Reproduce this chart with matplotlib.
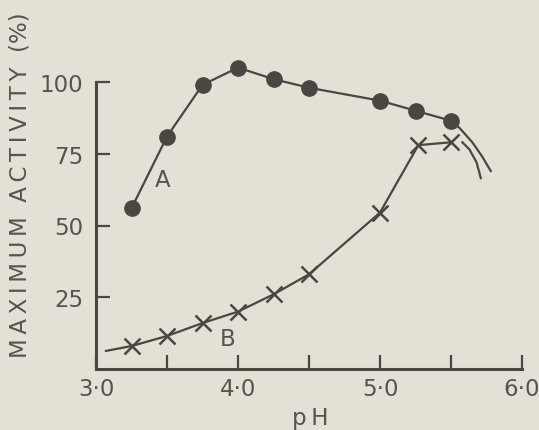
import matplotlib
matplotlib.use("Agg")
import matplotlib.pyplot as plt

# Curve A (filled circles)
ph_a = [3.25, 3.5, 3.75, 4.0, 4.25, 4.5, 5.0, 5.25, 5.5]
act_a = [56, 81, 99, 105, 101, 98, 93.5, 90, 86.5]
# Curve A tail beyond last point
ph_a_tail = [5.5, 5.56, 5.65, 5.72, 5.78]
act_a_tail = [86.5, 84, 79, 74, 69]

# Curve B (crosses)
ph_b = [3.25, 3.5, 3.75, 4.0, 4.25, 4.5, 5.0, 5.27, 5.5]
act_b = [8, 11.5, 16, 20, 26, 33, 54.5, 78, 79]
# Curve B line start and tail
ph_b_start = [3.07, 3.25]
act_b_start = [6.3, 8]
ph_b_tail = [5.58, 5.63, 5.68, 5.71]
act_b_tail = [79, 76.5, 72, 66.5]

xticks = [3.0, 3.5, 4.0, 4.5, 5.0, 5.5, 6.0]
xticklabels = ["3·0", "", "4·0", "", "5·0", "", "6·0"]
yticks = [25, 50, 75, 100]
yticklabels = ["25", "50", "75", "100"]

bg = "#e3e1d6"
ink = "#4a4642"
txt = "#57534e"

plt.rcParams['font.family'] = ['DejaVu Sans']

fig = plt.figure(figsize=(5.39, 4.31), dpi=100, facecolor=bg)
ax = fig.add_axes([96/539, 1-370/431, (522-96)/539, (370-83)/431])
ax.set_facecolor(bg)
ax.set_xlim(3.0, 6.0)
ax.set_ylim(0, 100)

for s in ["top", "right"]:
    ax.spines[s].set_visible(False)
for s in ["left", "bottom"]:
    ax.spines[s].set_color(ink)
    ax.spines[s].set_linewidth(2.2)
ax.spines["left"].set_bounds(0, 100)

ax.set_xticks(xticks)
ax.set_xticklabels(xticklabels)
ax.set_yticks(yticks)
ax.set_yticklabels(yticklabels)
ax.tick_params(axis="both", direction="in", length=10, width=1.6, color=ink,
               labelcolor=txt, labelsize=16.5)
ax.tick_params(axis="x", pad=6)
ax.tick_params(axis="y", pad=9)

lw = 1.6
ax.plot(ph_a, act_a, color=ink, lw=lw, marker="o", ms=11, mfc=ink, mec=ink,
        clip_on=False, zorder=3)
ax.plot(ph_a_tail, act_a_tail, color=ink, lw=lw, clip_on=False)
ax.plot(ph_b, act_b, color=ink, lw=lw, marker="x", ms=11, mew=1.8,
        clip_on=False, zorder=3)
ax.plot(ph_b_start, act_b_start, color=ink, lw=lw, clip_on=False)
ax.plot(ph_b_tail, act_b_tail, color=ink, lw=lw, clip_on=False)

ax.text(3.47, 66, "A", color=txt, fontsize=16.5, ha="center", va="center")
ax.text(3.93, 10.5, "B", color=txt, fontsize=16.5, ha="center", va="center")

fig.text(310/539, 1-419/431, "p\u2009H", color=txt, fontsize=16.5,
         ha="center", va="center")
ylab = "\u2009".join("MAXIMUM") + "  " + "\u2009".join("ACTIVITY") + "  (%)"
fig.text(20/539, 1-185/431, ylab, color=txt, fontsize=16.5,
         rotation=90, ha="center", va="center")

fig.savefig("out.png", dpi=100, facecolor=bg)
